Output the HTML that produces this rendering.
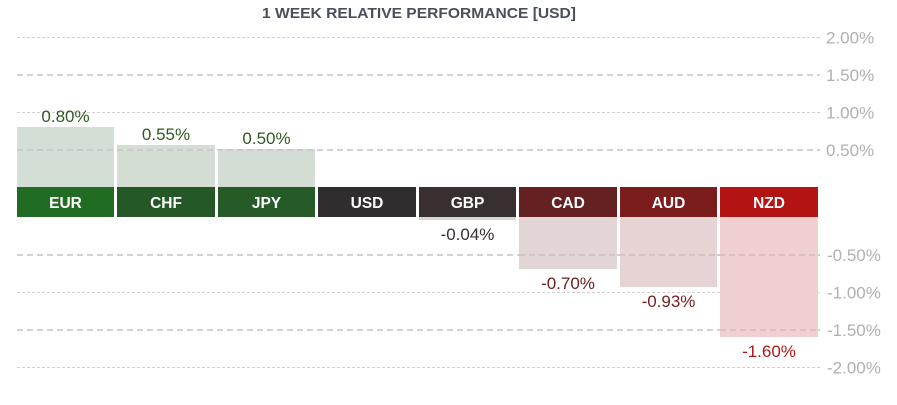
<!DOCTYPE html>
<html><head><meta charset="utf-8"><style>
html,body{margin:0;padding:0;background:#fff;}
svg{display:block;font-family:"Liberation Sans",sans-serif;}
</style></head><body>
<svg width="897" height="405" viewBox="0 0 897 405" xmlns="http://www.w3.org/2000/svg">
<text x="419" y="18" text-anchor="middle" font-size="15" font-weight="bold" fill="#4a505b" textLength="314" lengthAdjust="spacingAndGlyphs">1 WEEK RELATIVE PERFORMANCE  [USD]</text>
<g stroke="#d0d0d4" stroke-width="1" stroke-dasharray="3,2">
<line x1="17" x2="820" y1="37.5" y2="37.5"/>
<line x1="17" x2="820" y1="112.5" y2="112.5"/>
<line x1="17" x2="820" y1="292.5" y2="292.5"/>
<line x1="17" x2="820" y1="367.5" y2="367.5"/>
</g>
<g stroke="#c4c4c8" stroke-width="1.5" stroke-dasharray="6,4">
<line x1="17" x2="820" y1="75" y2="75"/>
<line x1="17" x2="820" y1="255" y2="255"/>
<line x1="17" x2="820" y1="330" y2="330"/>
</g>
<rect x="17" y="127" width="97" height="60" fill="#d3dfd5"/>
<rect x="117" y="145" width="98" height="42" fill="#d3ddd4"/>
<rect x="218" y="149" width="97" height="38" fill="#d3ddd4"/>
<rect x="419" y="217" width="97" height="3" fill="#d8d5d5"/>
<rect x="519" y="217" width="98" height="52" fill="#e3d5d5"/>
<rect x="620" y="217" width="97" height="70" fill="#e6d4d5"/>
<rect x="720" y="217" width="98" height="120" fill="#efcfcf"/>
<g stroke="#c4c4c8" stroke-width="1.5" stroke-dasharray="6,4">
<line x1="17" x2="820" y1="150" y2="150"/>
</g>
<g stroke="#b8b0b0" stroke-width="1.5" stroke-dasharray="6,4" opacity="0.6">
<line x1="519" x2="820" y1="255" y2="255"/>
<line x1="720" x2="820" y1="330" y2="330"/>
</g>
<rect x="17" y="187" width="97" height="30" fill="#226b22"/>
<rect x="117" y="187" width="98" height="30" fill="#245826"/>
<rect x="218" y="187" width="97" height="30" fill="#265a27"/>
<rect x="318" y="187" width="98" height="30" fill="#302d2e"/>
<rect x="419" y="187" width="97" height="30" fill="#383030"/>
<rect x="519" y="187" width="98" height="30" fill="#652022"/>
<rect x="620" y="187" width="97" height="30" fill="#7b1c1d"/>
<rect x="720" y="187" width="98" height="30" fill="#b31313"/>
<g fill="#fff" font-size="15.5" font-weight="bold" text-anchor="middle">
<text x="65.5" y="208">EUR</text>
<text x="166" y="208">CHF</text>
<text x="266.5" y="208">JPY</text>
<text x="367" y="208">USD</text>
<text x="467.5" y="208">GBP</text>
<text x="568" y="208">CAD</text>
<text x="668.5" y="208">AUD</text>
<text x="769" y="208">NZD</text>
</g>
<g font-size="17" text-anchor="middle">
<text x="65.5" y="122" fill="#2e5a1f">0.80%</text>
<text x="166" y="140" fill="#2e5a1f">0.55%</text>
<text x="266.5" y="144" fill="#2e5a1f">0.50%</text>
<text x="467.5" y="240" fill="#3a3030">-0.04%</text>
<text x="568" y="289" fill="#6b1c1c">-0.70%</text>
<text x="668.5" y="307" fill="#7a1c1c">-0.93%</text>
<text x="769" y="357" fill="#b01818">-1.60%</text>
</g>
<g font-size="17" fill="#b0b0b4">
<text x="826" y="43.5">2.00%</text>
<text x="826" y="81">1.50%</text>
<text x="826" y="118.5">1.00%</text>
<text x="826" y="156">0.50%</text>
<text x="827" y="261">-0.50%</text>
<text x="827" y="298.5">-1.00%</text>
<text x="827" y="336">-1.50%</text>
<text x="827" y="373.5">-2.00%</text>
</g>
</svg>
</body></html>
